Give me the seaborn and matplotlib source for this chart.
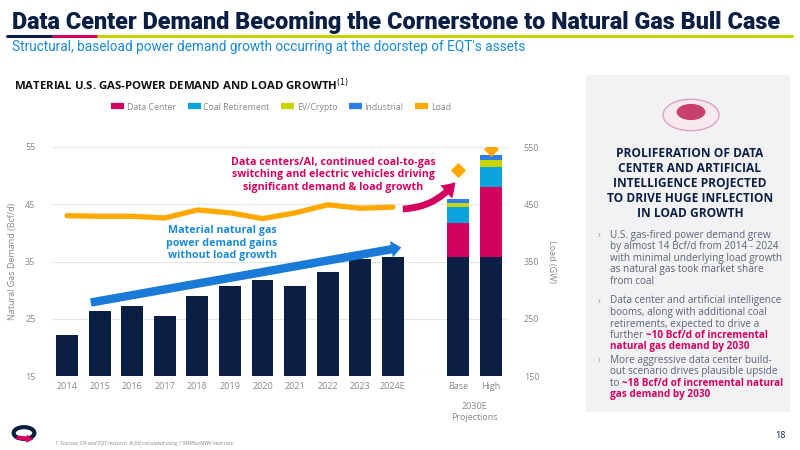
import matplotlib
matplotlib.use("Agg")
import matplotlib.pyplot as plt
import seaborn as sns
import pandas as pd
from matplotlib.patches import Rectangle, Circle, FancyArrowPatch
from matplotlib.lines import Line2D

years = ["2014", "2015", "2016", "2017", "2018", "2019", "2020", "2021", "2022", "2023", "2024E"]
gas_demand = [22.2, 26.3, 27.3, 25.4, 29.0, 30.8, 31.8, 30.7, 33.1, 35.4, 35.7]
load_gw = [430, 429, 429, 426, 440, 435, 425, 435, 449, 443, 445]
proj_labels = ["Base", "High"]
proj_base = [35.7, 35.7]
proj_data_center = [6.1, 12.4]
proj_coal = [2.8, 3.4]
proj_ev = [0.7, 1.3]
proj_industrial = [0.6, 0.8]
proj_load = [510, 547]

NAVY = "#0b1f45"
MAG = "#d4025f"
CYAN = "#0aa3dc"
LIME = "#c8d400"
BLUE = "#2b7de9"
ORANGE = "#ffa800"

sns.set_theme(style="white")
plt.rcParams["font.family"] = ["Open Sans", "DejaVu Sans"]

fig = plt.figure(figsize=(8, 4.5), dpi=100)
def P(x, y):
    return (x / 800, 1 - y / 450)

# Header
fig.text(*P(12, 22), "Data Center Demand Becoming the Cornerstone to Natural Gas Bull Case",
         fontsize=16.8, fontweight="heavy", color=NAVY, va="center", family="Roboto")
for x0, x1, c in [(7, 53, NAVY), (53, 98, MAG), (98, 792, LIME)]:
    fig.add_artist(Line2D([x0/800, x1/800], [1-36/450]*2, color=c, lw=2.2))
fig.text(*P(12, 47), "Structural, baseload power demand growth occurring at the doorstep of EQT's assets",
         fontsize=9.8, color="#1a8ad8", va="center", family="Roboto")
fig.text(*P(14, 85), "MATERIAL U.S. GAS-POWER DEMAND AND LOAD GROWTH$^{(1)}$",
         fontsize=8.2, fontweight="bold", color="#111111", va="center")

# Chart
ax = fig.add_axes([52/800, 1-376/450, 455/800, 229/450])
xs = list(range(len(years)))
px_ = [12, 13]
df_hist = pd.DataFrame({"x": xs, "v": gas_demand})
sns.barplot(data=df_hist, x="x", y="v", native_scale=True, color=NAVY, width=0.67,
            saturation=1, ax=ax, linewidth=0)
bottom = list(proj_base)
df_p = pd.DataFrame({"x": px_, "v": proj_base})
sns.barplot(data=df_p, x="x", y="v", native_scale=True, color=NAVY, width=0.67,
            saturation=1, ax=ax, linewidth=0)
for vals, c in [(proj_data_center, MAG), (proj_coal, CYAN), (proj_ev, LIME), (proj_industrial, BLUE)]:
    d = pd.DataFrame({"x": px_, "v": vals})
    sns.barplot(data=d, x="x", y="v", native_scale=True, color=c, width=0.67,
                saturation=1, ax=ax, linewidth=0, bottom=bottom)
    bottom = [b + v for b, v in zip(bottom, vals)]
ax.set_xlim(-0.46, 13.5)
ax.set_ylim(15, 55)
ax.set_yticks([15, 25, 35, 45, 55])
ax.set_xticks(xs + px_)
ax.set_xticklabels(years + proj_labels)
ax.tick_params(axis="both", labelsize=6.5, colors="#888888", length=0, pad=4)
ax.tick_params(axis="y", pad=12)
ax.grid(axis="y", color="#e6e6e6", lw=0.8)
ax.set_axisbelow(True)
for s in ax.spines.values():
    s.set_visible(False)
ax.set_xlabel("")
ax.set_ylabel("Natural Gas Demand (Bcf/d)", fontsize=6.5, color="#888888", labelpad=6)
ax.text(12.5, -0.115, "2030E\nProjections", transform=ax.get_xaxis_transform(),
        ha="center", va="top", fontsize=6.5, color="#888888", linespacing=1.3)

ax2 = ax.twinx()
sns.lineplot(x=xs, y=load_gw, color=ORANGE, lw=3.8, ax=ax2)
sns.scatterplot(x=px_, y=proj_load, color=ORANGE, marker="D", s=60, ax=ax2, linewidth=0)
ax2.set_ylim(150, 550)
ax2.set_yticks([150, 250, 350, 450, 550])
ax2.tick_params(axis="y", labelsize=6.5, colors="#888888", length=0, pad=12)
ax2.set_ylabel("Load (GW)", fontsize=6.5, color="#888888", rotation=270, labelpad=12)
for s in ax2.spines.values():
    s.set_visible(False)
ax2.grid(False)

# Legend
handles = [Line2D([], [], color=c, lw=4.5, solid_capstyle="butt") for c in [MAG, CYAN, LIME, BLUE, ORANGE]]
fig.legend(handles, ["Data Center", "Coal Retirement", "EV/Crypto", "Industrial", "Load"],
           loc="center", bbox_to_anchor=P(281, 107), ncol=5, frameon=False, fontsize=6.3,
           labelcolor="#888888", handlelength=1.5, handletextpad=0.3, columnspacing=1.3)

# Annotations
fig.add_artist(FancyArrowPatch(P(88, 303), P(404, 247),
                               arrowstyle="simple,head_width=0.75,head_length=0.45,tail_width=0.38",
                               mutation_scale=16, color="#1a7ad8", lw=0))
fig.text(*P(222, 243), "Material natural gas\npower demand gains\nwithout load growth", ha="center", va="center",
         fontsize=7.7, fontweight="bold", color="#1a8ad8", linespacing=1.2)
fig.add_artist(FancyArrowPatch(P(400, 209), P(457, 180), connectionstyle="arc3,rad=0.25",
                               arrowstyle="simple,head_width=0.8,head_length=0.6,tail_width=0.3",
                               mutation_scale=16, color=MAG, lw=0))
fig.text(*P(333, 175), "Data centers/AI, continued coal-to-gas\nswitching and electric vehicles driving\nsignificant demand & load growth",
         ha="center", va="center", fontsize=7.7, fontweight="bold", color=MAG, linespacing=1.2)

# Right panel
fig.add_artist(Rectangle(P(586, 412), 204/800, 337/450, color="#f2f2f4", lw=0, zorder=0))
fig.add_artist(Circle(P(691, 115), 0.035, transform=fig.transFigure, facecolor="#f7e9ef",
                      edgecolor="#e0a0bc", lw=1))
fig.add_artist(Circle(P(691, 112), 0.018, transform=fig.transFigure, facecolor="#c8406e", lw=0))
fig.text(*P(690, 183), "PROLIFERATION OF DATA\nCENTER AND ARTIFICIAL\nINTELLIGENCE PROJECTED\nTO DRIVE HUGE INFLECTION\nIN LOAD GROWTH",
         ha="center", va="center", fontsize=8.6, fontweight="bold", color=NAVY, linespacing=1.2)
bul = "#5a6478"
bullets = [
    (235, [[("U.S. gas-fired power demand grew", False)],
           [("by almost 14 Bcf/d from 2014 - 2024", False)],
           [("with minimal underlying load growth", False)],
           [("as natural gas took market share", False)],
           [("from coal", False)]]),
    (301, [[("Data center and artificial intelligence", False)],
           [("booms, along with additional coal", False)],
           [("retirements, expected to drive a", False)],
           [("further ", False), ("~10 Bcf/d of incremental", True)],
           [("natural gas demand by 2030", True)]]),
    (360, [[("More aggressive data center build-", False)],
           [("out scenario drives plausible upside", False)],
           [("to ", False), ("~18 Bcf/d of incremental natural", True)],
           [("gas demand by 2030", True)]]),
]
lh = 11.5
for y0, lines in bullets:
    fig.text(*P(598, y0), "›", fontsize=7, color="#999999", va="center")
    for i, segs in enumerate(lines):
        y = y0 + i * lh
        prev = None
        for txt, hl in segs:
            kw = dict(fontsize=7.2, color=MAG if hl else bul, va="center",
                      fontweight="bold" if hl else "normal")
            if prev is None:
                prev = fig.text(*P(610, y), txt, **kw)
            else:
                prev = fig.add_artist(matplotlib.text.Annotation(
                    txt, xy=(1, 0.5), xycoords=prev, ha="left", annotation_clip=False, **kw))

# Footer
fig.add_artist(Circle(P(24, 433), 0.013, transform=fig.transFigure, facecolor="none", edgecolor=NAVY, lw=3))
fig.add_artist(FancyArrowPatch(P(14, 437), P(36, 440), arrowstyle="simple,head_width=0.6,head_length=0.5,tail_width=0.3",
                               mutation_scale=10, color=MAG, lw=0))
fig.text(*P(55, 444), "1. Sources: EIA and EQT research. Bcf/d calculated using 7 MMBtu/MWh heat rate.",
         fontsize=3.6, style="italic", color="#888888", va="center")
fig.text(*P(786, 435), "18", fontsize=6.5, color=NAVY, ha="right", va="center")

fig.savefig("out.png", dpi=100)
